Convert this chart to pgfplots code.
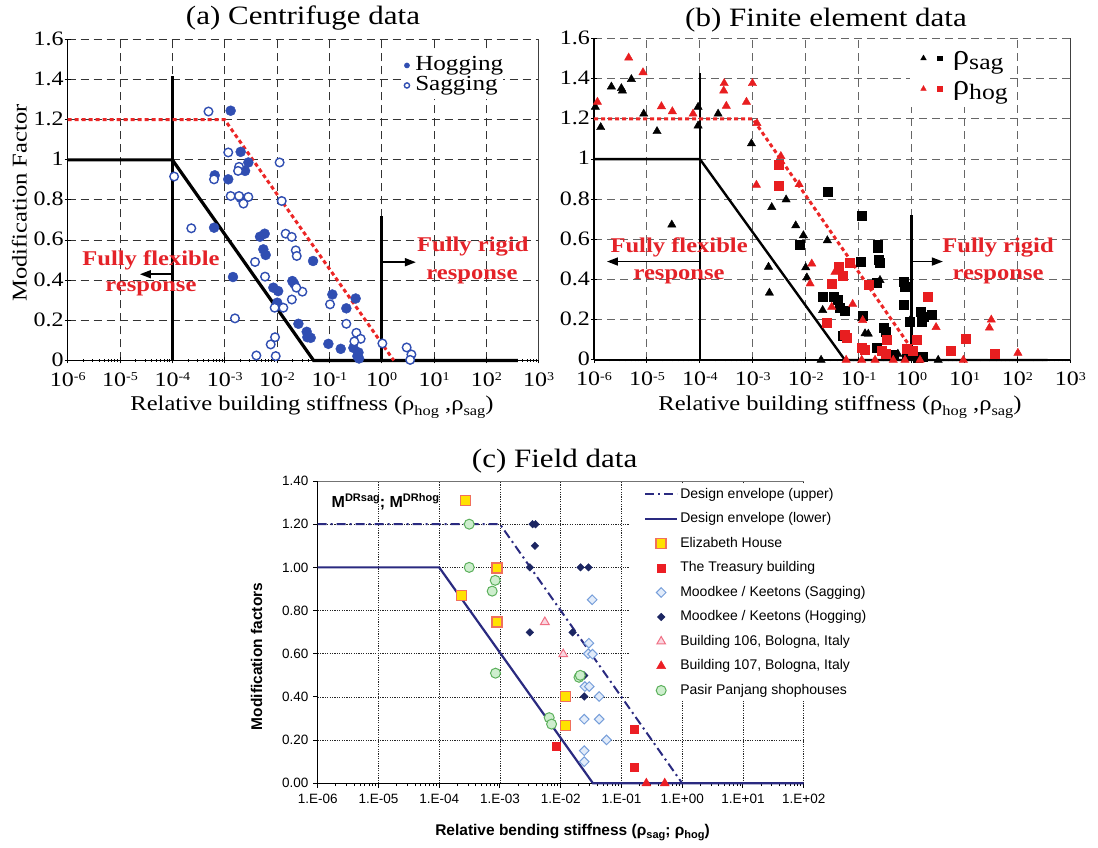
\documentclass[border=0pt]{standalone}
\usepackage{fontspec}
\setmainfont{Liberation Serif}[FakeStretch=1.17]
\newfontfamily\arialf{Liberation Sans}
\usepackage{pgfplots}
\pgfplotsset{compat=1.18}
\usetikzlibrary{arrows.meta}

% colours
\definecolor{dotblue}{RGB}{48,78,178}
\definecolor{envred}{RGB}{236,38,38}
\definecolor{annred}{RGB}{228,34,40}
\definecolor{fered}{RGB}{232,30,32}
\definecolor{envnavy}{RGB}{42,42,128}
\definecolor{ehfill}{RGB}{255,226,0}
\definecolor{ehedge}{RGB}{240,112,92}
\definecolor{trred}{RGB}{236,30,36}
\definecolor{mksag}{RGB}{118,158,218}
\definecolor{mksagfill}{RGB}{226,236,250}
\definecolor{mkhog}{RGB}{28,38,98}
\definecolor{bldpink}{RGB}{240,112,132}
\definecolor{bldpinkfill}{RGB}{250,214,224}
\definecolor{ppedge}{RGB}{92,176,92}
\definecolor{ppfill}{RGB}{206,238,206}

\newcommand{\fs}[1]{\fontsize{#1}{#1}\selectfont}
\newcommand{\tpow}[1]{10\raisebox{5.8pt}{\fs{12}#1}}
\newcommand{\rsub}[1]{\raisebox{-4.5pt}{\fs{14}#1}}
\newcommand{\asub}[1]{\raisebox{-3pt}{\fs{11}#1}}
\newcommand{\asup}[1]{\raisebox{6pt}{\fs{11}#1}}
\newcommand{\legrho}[1]{{\fs{28}ρ}\raisebox{-5pt}{\fs{22}#1}}

% legend pictures
\pgfplotsset{
  legdot/.style={legend image code/.code={%
      \path[draw=none] (0pt,0pt) -- (8pt,0pt);
      \draw[##1, mark size=2.6pt] plot coordinates {(3.7pt,0pt)};}},
  legfe/.style={legend image code/.code={%
      \path[draw=none] (0pt,0pt) -- (40pt,0pt);
      \draw[##1, mark size=3.2pt] plot coordinates {(13.3pt,0pt)};
      \draw[##1, mark=square*, mark size=2.4pt] plot coordinates {(29.3pt,0pt)};}},
  legmk/.style={legend image code/.code={%
      \path[draw=none] (0pt,0pt) -- (48pt,0pt);
      \draw[##1] plot coordinates {(32pt,0pt)};}},
  legln/.style={legend image code/.code={%
      \path[draw=none] (0pt,0pt) -- (48pt,0pt);
      \draw[##1] (16pt,0pt) -- (48pt,0pt);}},
}

\begin{document}
\begin{tikzpicture}[x=1pt,y=1pt]
\useasboundingbox (0,0) rectangle (1098,847);

%% ---------------- (a) Centrifuge data ----------------
\begin{axis}[scale only axis, clip=false,
  at={(67.7pt,486.5pt)}, anchor=south west, width=471pt, height=321pt,
  xmode=log, xmin=1e-6, xmax=1e3, ymin=0, ymax=1.6,
  axis x line*=bottom, axis y line*=left,
  xtick={1e-6,1e-5,1e-4,1e-3,1e-2,1e-1,1,10,100,1000},
  xticklabels={\tpow{-6},\tpow{-5},\tpow{-4},\tpow{-3},\tpow{-2},\tpow{-1},\tpow{0},\tpow{1},\tpow{2},\tpow{3}},
  ytick={0,0.2,0.4,0.6,0.8,1,1.2,1.4,1.6},
  yticklabels={0,0.2,0.4,0.6,0.8,1,1.2,1.4,1.6},
  minor xtick={},
  grid=major,
  major grid style={black!80, line width=1pt, dash pattern=on 8pt off 5pt},
  axis line style={black, line width=1.3pt},
  tick style={black, line width=1pt}, tick align=center, major tick length=6pt,
  tick label style={font=\fs{20.5}, inner sep=0pt},
  xticklabel style={yshift=-9pt, text depth=0pt},
  yticklabel style={xshift=-1pt, yshift=1pt, text depth=0pt},
  legend style={at={(0.712,0.961)}, anchor=north west, draw=none, fill=white,
     inner xsep=0pt, inner ysep=4pt,
     font=\fs{21.5}, row sep=1.5pt, column sep=4pt,
     nodes={inner sep=0pt, text height=14pt, text depth=4.5pt}},
  legend cell align=left,
]
\draw[black!75, line width=1pt] (rel axis cs:1,0) -- (rel axis cs:1,1);
% design bounds
\addplot[black, line width=3.2pt, forget plot] coordinates {(1e-6,1) (1e-4,1) (0.05,0) (400,0)};
\addplot[black, line width=3.2pt, forget plot] coordinates {(1e-4,0) (1e-4,1.42)};
\addplot[black, line width=3.2pt, forget plot] coordinates {(1,0) (1,0.72)};
\addplot[envred, line width=3pt, dash pattern=on 4pt off 3pt, forget plot] coordinates {(1e-6,1.2) (1e-3,1.2) (1.7,0)};
\addplot[black, line width=1.6pt, -{Triangle[length=11pt,width=8pt]}, forget plot] coordinates {(1e-4,0.43) (2.4e-5,0.43)};
\addplot[black, line width=1.6pt, -{Triangle[length=11pt,width=8pt]}, forget plot] coordinates {(1,0.49) (4.5,0.49)};
% hogging
\addplot[legdot, only marks, mark=*, mark size=5pt, mark options={draw=dotblue, fill=dotblue}] coordinates {
(1.30e-3,1.245) (2.02e-3,1.04) (2.83e-3,0.987) (2.45e-3,0.945) (6.45e-4,0.923) (1.17e-3,0.903)
(2.02e-3,0.81) (6.27e-4,0.662) (4.73e-3,0.617) (5.81e-3,0.632) (5.48e-3,0.554) (6.07e-3,0.526)
(0.0488,0.496) (1.44e-3,0.416) (8.51e-3,0.363) (1.05e-2,0.346) (1.96e-2,0.396) (2.11e-2,0.384)
(1.01e-2,0.288) (2.56e-2,0.183) (3.69e-2,0.143) (4.40e-2,0.113) (3.80e-2,0.116) (0.0957,0.083)
(0.165,0.058) (0.114,0.329) (0.211,0.26) (0.318,0.309) (0.288,0.063) (0.343,0.022) (0.369,0.01) (0.36,0.04)
};
\addlegendentry{Hogging}
% sagging
\addplot[legdot, only marks, mark=*, mark size=4.3pt, mark options={draw=dotblue, fill=white, line width=1.4pt}] coordinates {
(4.9e-4,1.241) (1.17e-3,1.037) (1.88e-3,0.965) (1.80e-3,0.945) (1.12e-2,0.987) (1.08e-4,0.917)
(6.25e-4,0.903) (1.30e-3,0.82) (1.88e-3,0.82) (2.83e-3,0.815) (2.28e-3,0.782) (1.23e-2,0.795)
(2.3e-4,0.659) (1.46e-2,0.632) (1.91e-2,0.616) (2.28e-2,0.549) (2.38e-2,0.521) (3.80e-3,0.491)
(5.90e-3,0.418) (1.92e-2,0.304) (1.32e-2,0.263) (3.05e-2,0.343) (2.34e-2,0.363) (9.0e-3,0.263)
(1.57e-3,0.21) (9.16e-3,0.116) (7.57e-3,0.08) (4.03e-3,0.025) (9.44e-3,0.022) (0.103,0.28)
(0.211,0.183) (0.328,0.138) (0.397,0.108) (0.30,0.095) (1.03,0.085) (3.0,0.065) (3.7,0.03) (3.5,0.003)
};
\addlegendentry{Sagging}
\node[font=\fs{21}\bfseries, text=annred] at (axis cs:3.9e-5,0.501) {Fully flexible};
\node[font=\fs{21}\bfseries, text=annred] at (axis cs:3.9e-5,0.357) {response};
\node[font=\fs{21}\bfseries, text=annred] at (axis cs:55,0.566) {Fully rigid};
\node[font=\fs{21}\bfseries, text=annred] at (axis cs:53,0.416) {response};
\end{axis}

%% ---------------- (b) Finite element data ----------------
\begin{axis}[scale only axis, clip=false,
  at={(594pt,487pt)}, anchor=south west, width=476.4pt, height=321.5pt,
  xmode=log, xmin=1e-6, xmax=1e3, ymin=0, ymax=1.6,
  axis x line*=bottom, axis y line*=left,
  xtick={1e-6,1e-5,1e-4,1e-3,1e-2,1e-1,1,10,100,1000},
  xticklabels={\tpow{-6},\tpow{-5},\tpow{-4},\tpow{-3},\tpow{-2},\tpow{-1},\tpow{0},\tpow{1},\tpow{2},\tpow{3}},
  ytick={0,0.2,0.4,0.6,0.8,1,1.2,1.4,1.6},
  yticklabels={0,0.2,0.4,0.6,0.8,1,1.2,1.4,1.6},
  minor xtick={},
  grid=major,
  major grid style={black!60, line width=1pt, dash pattern=on 8pt off 5pt},
  axis line style={black, line width=1.3pt},
  tick style={black, line width=1pt}, tick align=center, major tick length=6pt,
  tick label style={font=\fs{20.5}, inner sep=0pt},
  xticklabel style={yshift=-9pt, text depth=0pt},
  yticklabel style={xshift=-1pt, yshift=1pt, text depth=0pt},
  legend style={at={(0.6633,0.9953)}, anchor=north west, draw=none, fill=white,
     inner xsep=0pt, inner ysep=4pt,
     font=\fs{21}, row sep=2.6pt, column sep=2.7pt,
     nodes={inner sep=0pt, text height=20pt, text depth=8pt}},
  legend cell align=left,
]
\draw[black!75, line width=1pt] (rel axis cs:1,0) -- (rel axis cs:1,1);
\addplot[black, line width=2.4pt, forget plot] coordinates {(1e-6,1) (1e-4,1) (0.055,0) (370,0)};
\addplot[black, line width=2.4pt, forget plot] coordinates {(1e-4,0) (1e-4,1.43)};
\addplot[black, line width=2.4pt, forget plot] coordinates {(1,0) (1,0.72)};
\addplot[envred, line width=3pt, dash pattern=on 4pt off 3pt, forget plot] coordinates {(1e-6,1.2) (1e-3,1.2) (1.4,0)};
\addplot[black, line width=1.6pt, -{Triangle[length=11pt,width=8pt]}, forget plot] coordinates {(1e-4,0.49) (1.76e-6,0.49)};
\addplot[black, line width=1.6pt, -{Triangle[length=11pt,width=8pt]}, forget plot] coordinates {(1,0.49) (3.9,0.49)};
% sagging, triangles
\addplot[legfe, only marks, mark=triangle*, mark size=4.8pt, black] coordinates {
(1.06e-6,1.259) (1.34e-6,1.158) (2.13e-6,1.36) (3.29e-6,1.352) (3.44e-6,1.34) (5.08e-6,1.397)
(8.69e-6,1.225) (1.55e-5,1.138) (9.25e-5,1.259) (9.25e-5,1.166) (2.21e-4,1.225) (9.42e-4,1.077)
(2.95e-5,0.673) (2.28e-3,0.76) (2.06e-3,0.334) (1.98e-3,0.463) (4.26e-3,0.798) (6.47e-3,0.669)
(9.04e-3,0.62) (1.0e-2,0.46) (1.05e-2,0.41) (2.56e-2,0.595) (2.09e-2,0.248) (0.253,0.397)
(0.132,0.132) (0.114,0.207) (1.95e-2,0.0) (3.18,0.0) (0.152,0.13) (0.55,0.03) (0.95,0.2)
};
\addlegendentry{\legrho{sag}}
% sagging, squares
\addplot[only marks, mark=square*, mark size=4.5pt, black, forget plot] coordinates {
(2.56e-2,0.84) (0.114,0.716) (0.228,0.575) (0.228,0.557) (0.235,0.499) (0.253,0.484)
(7.82e-3,0.575) (0.111,0.491) (0.219,0.383) (0.716,0.388) (0.748,0.367) (0.716,0.273)
(2.09e-2,0.317) (3.33e-2,0.314) (3.95e-2,0.298) (4.45e-2,0.261) (5.52e-2,0.245) (0.119,0.218)
(0.292,0.16) (0.328,0.14) (0.451,0.025) (1.5,0.24) (1.66,0.215) (2.38,0.226) (1.55,0.193)
(0.904,0.19) (0.219,0.063) (0.8,0.03) (1.0,0.02) (1.3,0.01) (1.6,0.015) (0.051,0.12)
};
% hogging, triangles
\addplot[legfe, only marks, mark=triangle*, mark size=4.8pt, fered] coordinates {
(1.16e-6,1.284) (4.52e-6,1.504) (8.43e-6,1.431) (1.88e-5,1.262) (3.02e-5,1.237) (7.43e-5,1.225)
(2.88e-4,1.377) (2.82e-4,1.34) (3.16e-4,1.264) (7.59e-4,1.284) (9.84e-4,1.377) (1.2e-3,1.178)
(3.39e-3,1.014) (1.17e-3,0.871) (7.5e-3,0.874) (1.3e-2,0.479) (1.21e-2,0.38) (3.57e-2,0.438)
(3.1e-2,0.264) (7.7e-2,0.278) (0.119,0.198) (0.058,0) (0.114,0) (0.204,0) (0.45,0) (0.75,0)
(1.44,0) (2.9,0.163) (32,0.2) (29.5,0.16) (102,0.035) (9.5,0)
};
\addlegendentry{\legrho{hog}}
% hogging, squares
\addplot[only marks, mark=square*, mark size=4.5pt, fered, forget plot] coordinates {
(3.14e-3,0.972) (3.14e-3,0.867) (4.13e-2,0.466) (4.99e-2,0.418) (3.1e-2,0.38) (6.85e-2,0.483)
(0.152,0.377) (2.49e-2,0.185) (5.52e-2,0.124) (5.94e-2,0.111) (0.114,0.063) (0.132,0.053)
(0.272,0.046) (0.328,0.033) (0.337,0.102) (0.805,0.058) (1.07,0.046) (1.24,0.102)
(2.0,0.314) (5.52,0.046) (10.6,0.107) (37.2,0.033)
};
\node[font=\fs{21}\bfseries, text=annred] at (axis cs:4.05e-5,0.562) {Fully flexible};
\node[font=\fs{21}\bfseries, text=annred] at (axis cs:4.05e-5,0.413) {response};
\node[font=\fs{21}\bfseries, text=annred] at (axis cs:43,0.562) {Fully rigid};
\node[font=\fs{21}\bfseries, text=annred] at (axis cs:43,0.413) {response};
\end{axis}

%% ---------------- (c) Field data ----------------
\begin{axis}[scale only axis, clip=false, at={(317.7pt,63.7pt)}, anchor=south west, width=486pt, height=302.3pt,
  xmode=log, xmin=1e-6, xmax=1e2, ymin=0, ymax=1.4,
  axis x line*=bottom, axis y line*=left,
  xtick={1e-6,1e-5,1e-4,1e-3,1e-2,1e-1,1,10,100},
  xticklabels={1.E-06,1.E-05,1.E-04,1.E-03,1.E-02,1.E-01,1.E+00,1.E+01,1.E+02},
  ytick={0,0.2,0.4,0.6,0.8,1,1.2,1.4},
  yticklabels={0.00,0.20,0.40,0.60,0.80,1.00,1.20,1.40},
  minor xtick={}, grid=major,
  major grid style={black!85, line width=0.8pt, dash pattern=on 1.2pt off 1.2pt},
  axis line style={black, line width=1.2pt},
  tick style={black, line width=1pt}, tick align=outside, major tick length=4.5pt,
  tick label style={font=\arialf\fs{13.5}, inner sep=0pt},
  yticklabel style={xshift=-4.5pt},
  xticklabel style={yshift=-6pt},
  legend style={at={(0.6405,0.990)}, anchor=north west, draw=none, fill=white,
     inner xsep=0pt, inner ysep=3pt, font=\arialf\fs{14}, row sep=10pt, column sep=2pt,
     nodes={inner sep=0pt, text height=11pt, text depth=3.5pt}},
  legend cell align=left,
]
\draw[black!55, line width=1pt] (rel axis cs:0,1) -- (rel axis cs:1,1);
\addplot[legln, envnavy, line width=2pt, dash pattern=on 9pt off 4pt on 2pt off 4pt]
  coordinates {(1e-6,1.2) (1e-3,1.2) (1,0)};
\addlegendentry{Design envelope (upper)}
\addplot[legln, envnavy, line width=2.2pt]
  coordinates {(1e-6,1) (1e-4,1) (0.034,0) (100,0)};
\addlegendentry{Design envelope (lower)}
\addplot[legmk, only marks, mark=square*, mark size=5pt, mark options={draw=ehedge, fill=ehfill, line width=1.4pt}] coordinates {
(2.71e-4,1.31) (9.0e-4,0.997) (2.33e-4,0.869) (9.0e-4,0.747) (1.2e-2,0.402) (1.2e-2,0.269)
};
\addlegendentry{Elizabeth House}
\addplot[legmk, only marks, mark=square*, mark size=4pt, mark options={draw=trred, fill=trred}] coordinates {
(8.53e-3,0.17) (0.164,0.25) (0.164,0.075)
};
\addlegendentry{The Treasury building}
\addplot[legmk, only marks, mark=square*, mark size=3.4pt, mark options={rotate=45, draw=mksag, fill=mksagfill, line width=1pt}] coordinates {
(0.033,0.85) (0.0291,0.649) (0.0284,0.6) (0.0334,0.598) (0.025,0.448) (0.0295,0.448) (0.043,0.402)
(0.0244,0.297) (0.043,0.297) (0.0568,0.201) (0.0244,0.151) (0.0244,0.1)
};
\addlegendentry{Moodkee / Keetons (Sagging)}
\addplot[legmk, only marks, mark=square*, mark size=2.7pt, mark options={rotate=45, draw=mkhog, fill=mkhog}] coordinates {
(3.44e-3,1.2) (3.85e-3,1.2) (3.76e-3,1.1) (3.1e-3,1.0) (2.12e-2,1.0) (2.87e-2,1.0)
(3.1e-3,0.699) (1.57e-2,0.699) (2.44e-2,0.499) (2.44e-2,0.402)
};
\addlegendentry{Moodkee / Keetons (Hogging)}
\addplot[legmk, only marks, mark=triangle*, mark size=5pt, mark options={draw=bldpink, fill=bldpinkfill, line width=1pt}] coordinates {
(5.48e-3,0.747) (1.1e-2,0.598)
};
\addlegendentry{Building 106, Bologna, Italy}
\addplot[legmk, only marks, mark=triangle*, mark size=5.2pt, mark options={draw=trred, fill=trred}] coordinates {
(0.257,0) (0.516,0)
};
\addlegendentry{Building 107, Bologna, Italy}
\addplot[legmk, only marks, mark=*, mark size=5pt, mark options={draw=ppedge, fill=ppfill, line width=1pt}] coordinates {
(3.12e-4,1.2) (3.12e-4,1.0) (8.36e-4,0.94) (7.45e-4,0.89) (8.45e-4,0.51) (6.47e-3,0.304)
(7.08e-3,0.274) (2.0e-2,0.491) (2.1e-2,0.5)
};
\addlegendentry{Pasir Panjang shophouses}
\end{axis}

%% titles and axis labels
\node[font=\fs{26.5}, anchor=base] at (303,822) {(a) Centrifuge data};
\node[font=\fs{21}, rotate=90] at (19.3,644) {Modification Factor};
\node[font=\fs{21}, anchor=base] at (312,436) {Relative building stiffness (ρ\rsub{hog} ,ρ\rsub{sag})};
\node[font=\fs{26.5}, anchor=base] at (826,820) {(b) Finite element data};
\node[font=\fs{21}, anchor=base] at (840,436) {Relative building stiffness (ρ\rsub{hog} ,ρ\rsub{sag})};
\node[font=\fs{26.5}, anchor=base] at (554.6,379.4) {(c) Field data};
\node[font=\arialf\bfseries\fs{15.5}, rotate=90] at (256.5,190.5) {Modification factors};
\node[font=\arialf\bfseries\fs{15.5}, anchor=base] at (572.5,12) {Relative bending stiffness (ρ\asub{sag}; ρ\asub{hog})};
\node[font=\arialf\bfseries\fs{16}, anchor=base west, inner sep=0pt] at (331.5,339.2) {M\asup{DRsag}; M\asup{DRhog}};
\end{tikzpicture}
\end{document}
